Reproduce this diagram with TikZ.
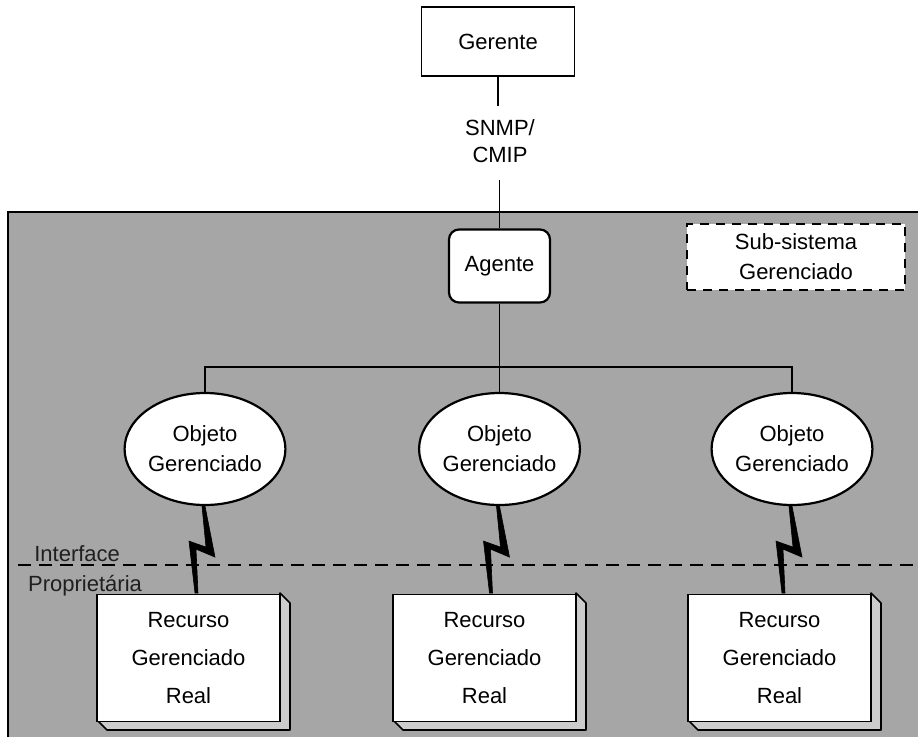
\documentclass[tikz,border=0pt]{standalone}
\usepackage{fontspec}
\setmainfont{Liberation Sans}
\usetikzlibrary{shapes.geometric}
\begin{document}
\begin{tikzpicture}[x=1pt,y=-1pt,
  lbl/.style={font=\fontsize{22}{27}\selectfont, align=center, inner sep=0pt},
  squarebox/.style={draw, line width=1.3pt, fill=white, minimum width=153pt, minimum height=69pt, font=\fontsize{22}{27}\selectfont},
  agentbox/.style={draw, line width=2.2pt, fill=white, rounded corners=10pt, minimum width=101pt, minimum height=73pt, font=\fontsize{22}{27}\selectfont},
  objnode/.style={draw, ellipse, line width=2.2pt, fill=white, minimum width=150pt, minimum height=112pt, inner sep=0pt, align=center, font=\fontsize{22}{30}\selectfont},
  subbox/.style={draw, dashed, dash pattern=on 9pt off 7pt, line width=1.8pt, fill=white, minimum width=218pt, minimum height=66pt, align=center, font=\fontsize{22}{30}\selectfont},
  resfront/.style={draw, line width=1.8pt, fill=white, minimum width=183pt, minimum height=127pt, align=center, inner sep=0pt, font=\fontsize{22}{38}\selectfont},
  slab/.style={fill=black!20, draw=black, line width=1.6pt, line join=round},
  wire/.style={line width=1.3pt},
  bolt/.style={fill=black, draw=black, line width=0.6pt, line join=miter}
]
\useasboundingbox (0,0) rectangle (920,744);
\fill[white] (0,0) rectangle (920,744);

% managed subsystem background
\fill[black!35] (8,212) rectangle (918,737);
\draw[line width=2pt] (8,737) -- (8,212) -- (918,212);

% manager, protocol label and agent
\node[squarebox] (ger) at (498,41.5) {Gerente};
\node[lbl] (prot) at (500,141) {SNMP/\\CMIP};
\node[agentbox] (ag) at (499.5,266) {Agente};
\path (ger.south) ++(0,29) coordinate (pt);
\path (ag.north) ++(0,-48) coordinate (pb);
\draw[wire] (ger.south) -- (pt);
\draw[wire] (pb) -- (ag.north);

% subsystem caption
\node[subbox] (sub) at (796,257) {Sub-sistema\\Gerenciado};

% managed objects
\node[objnode] (o1) at (205,449) {Objeto\\Gerenciado};
\node[objnode] (o2) at (499.5,449) {Objeto\\Gerenciado};
\node[objnode] (o3) at (792,449) {Objeto\\Gerenciado};

\path (ag.south) ++(0,63.5) coordinate (bus);
\draw[wire] (ag.south) -- (bus);
\draw[wire] (o1.north) |- (bus) -| (o3.north);
\draw[wire] (bus) -- (o2.north);

% proprietary interface line
\coordinate (il) at (18,565);
\coordinate (ir) at (918,565);
\draw[line width=1.5pt, dash pattern=on 13pt off 8pt] (il) -- (ir);
\node[lbl, font=\fontsize{22}{30}\selectfont, align=left, anchor=west, text=black!88] (iface) at (28,571) {\ Interface\\Propriet\'aria};

% real managed resources (front face plus bevelled slab)
\foreach \n/\cx in {r1/188.5, r2/484.5, r3/779.5}{
  \fill[slab] (\cx+91.5,593) -- (\cx+101.5,603) -- (\cx+101.5,730) -- (\cx-81.5,730) -- (\cx-91.5,720) -- (\cx+91.5,720) -- cycle;
  \node[resfront] (\n) at (\cx,658) {Recurso\\Gerenciado\\Real};
}

% lightning links between object and resource
\foreach \o/\r in {o1/r1, o2/r2, o3/r3}{
  \path (\o.south) ++(-2,0) coordinate (bt);
  \fill[bolt] (bt) ++(-1,0) -- ++(3,0) -- ++(10,51) -- ++(-19,-8) -- ++(2,44) -- ++(-3,0) -- ++(-6,-52) -- ++(17,6) -- cycle;
}

\end{tikzpicture}
\end{document}
